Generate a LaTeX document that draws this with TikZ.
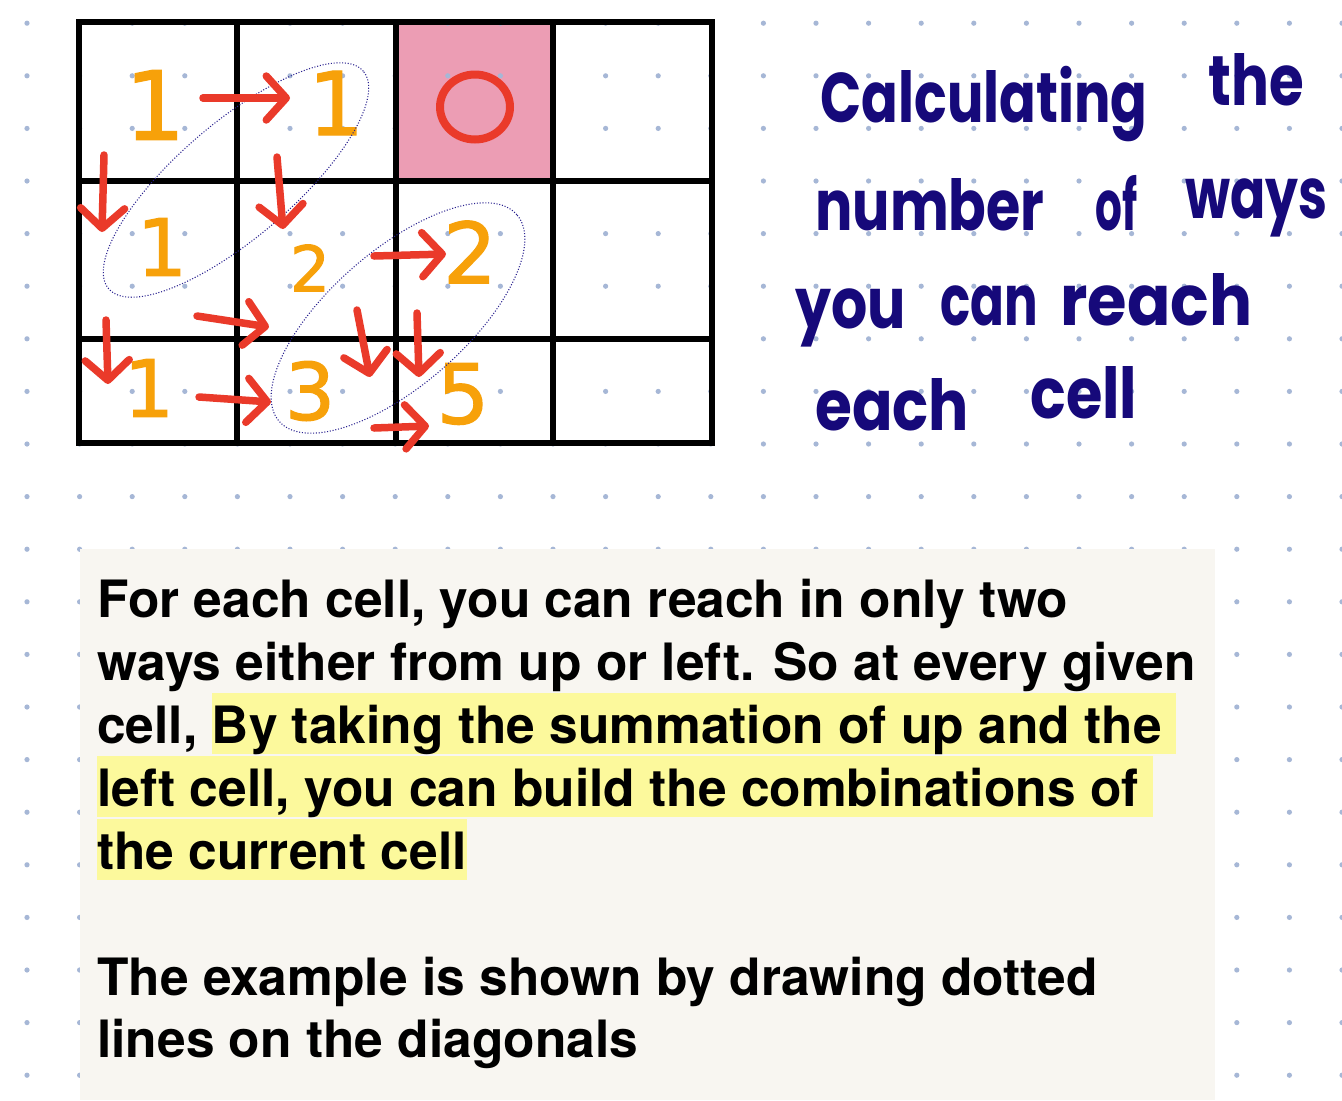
\documentclass[tikz,border=0pt]{standalone}
\usepackage{fontspec}
\setmainfont{TeX Gyre Heros}
\newfontfamily\handfont{Poppins}
\newfontfamily\numfont[FakeBold=1.5]{DejaVu Sans}
\usetikzlibrary{arrows.meta,calc,shapes.geometric}
\definecolor{DotBlue}{HTML}{A6B7D6}
\definecolor{CellPink}{HTML}{EC9DB4}
\definecolor{PenOrange}{HTML}{F7A10A}
\definecolor{PenRed}{HTML}{EA3A2A}
\definecolor{PenNavy}{HTML}{16097A}
\definecolor{LoopBlue}{HTML}{2A2290}
\definecolor{Paper}{HTML}{F8F6F1}
\definecolor{HiYellow}{HTML}{FCF99C}
\tikzset{
  gridline/.style={line width=0.13cm, draw=black, line cap=rect},
  num/.style={text=PenOrange, inner sep=0pt, font=\numfont},
  redarr/.style={draw=PenRed, line width=0.15cm, line cap=round, -{Straight Barb[length=0.4cm,width=0.88cm,round]}},
  loop/.style={draw=LoopBlue, densely dotted, line width=0.6pt, ellipse, inner sep=0pt},
  hand/.style={text=PenNavy, font=\handfont\bfseries\fontsize{40}{40}\selectfont, inner sep=0pt, anchor=base west},
  body/.style={font=\bfseries\fontsize{29.3}{34}\selectfont, inner sep=0pt, anchor=base west}
}
\newcommand\hl[1]{{\setlength\fboxsep{0pt}\colorbox{HiYellow}{\rule[-0.21cm]{0pt}{1.21cm}#1}}}

\begin{document}
\begin{tikzpicture}[x=0.02cm,y=-0.02cm]
\useasboundingbox (0,0) rectangle (1342,1100);
\fill[white] (0,0) rectangle (1342,1100);
% marked cell
\fill[CellPink] (396,22) rectangle (553,181);
% dotted paper
\foreach \i in {0,...,25}
  \foreach \j in {0,...,20}
    \fill[DotBlue] (27+\i*52.6,23.2+\j*52.6) circle[radius=0.052cm];

% grid
\draw[gridline] (79,22) rectangle (712,443);
\foreach \x in {237,396,553} \draw[gridline] (\x,22) -- (\x,443);
\foreach \y in {181,339} \draw[gridline] (79,\y) -- (712,\y);

% counts
\node[num] (n00) at (155,105) {\fontsize{54}{54}\selectfont 1};
\node[num] (n10) at (336,103) {\fontsize{50}{50}\selectfont 1};
\node[draw=PenRed, line width=0.16cm, ellipse, minimum width=1.4cm, minimum height=1.3cm, inner sep=0pt] (zero) at (475,107) {};
\node[num] (n01) at (162,247) {\fontsize{45}{45}\selectfont 1};
\node[num] (n11) at (310,268) {\fontsize{36}{36}\selectfont 2};
\node[num] (n21) at (470,252) {\fontsize{48}{48}\selectfont 2};
\node[num] (n02) at (149,388) {\fontsize{45}{45}\selectfont 1};
\node[num] (n12) at (310,391) {\fontsize{45}{45}\selectfont 3};
\node[num] (n22) at (463,394) {\fontsize{47}{47}\selectfont 5};

% diagonals
\node[loop, minimum width=6.7cm, minimum height=2.3cm, rotate=40.5] (loopA) at (236,180) {};
\node[loop, minimum width=6.3cm, minimum height=2.7cm, rotate=41] (loopB) at (398,318) {};

% moves (right / down)
\draw[redarr] ($(n00)+(48,-7)$) -- ($(n10)+(-46,-5)$);
\draw[redarr] ($(n00)+(-51,50)$) -- ($(n01)+(-60,-15)$);
\draw[redarr] ($(n10)+(-59,54)$) -- ($(n11)+(-27,-39)$);
\draw[redarr] ($(n01)+(35,69)$) -- ($(n11)+(-41,59)$);
\draw[redarr] ($(n11)+(64,-12)$) -- ($(n21)+(-24,2)$);
\draw[redarr] ($(n01)+(-56,73)$) -- ($(n02)+(-41,-4)$);
\draw[redarr] ($(n02)+(50,9)$) -- ($(n12)+(-39,11)$);
\draw[redarr] ($(n11)+(47,42)$) -- ($(n12)+(60,-14)$);
\draw[redarr] ($(n21)+(-53,61)$) -- ($(n22)+(-44,-17)$);
\draw[redarr] ($(n12)+(64,37)$) -- ($(n22)+(-34,32)$);

% handwritten title
\foreach \x/\y/\s/\w [count=\k] in {820/122/.77/Calculating, 1208/105/.8/the, 815/230/.79/number, 1095/230/.6/of, 1185/218/.74/ways, 795/328/.81/you, 940/325/.71/can, 1060/325/.91/reach, 815/430/.85/each, 1030/418/.84/cell}
  \node[hand] (hw\k) at (\x,\y) {\scalebox{\s}[1]{\w}};

% note
\fill[Paper] (80,549) rectangle (1215,1100);
\node[body] (l1) at (97,617) {For each cell, you can reach in only two};
\node[body] (l2) at (97,680) {ways either from up or left. So at every given};
\node[body] (l3) at (97,743) {cell, \hl{By taking the summation of up and the\ }};
\node[body] (l4) at (97,806) {\hl{left cell, you can build the combinations of\ }};
\node[body] (l5) at (97,869) {\hl{the current cell}};
\node[body] (l6) at (97,995) {The example is shown by drawing dotted};
\node[body] (l7) at (97,1057) {lines on the diagonals};
\end{tikzpicture}
\end{document}
